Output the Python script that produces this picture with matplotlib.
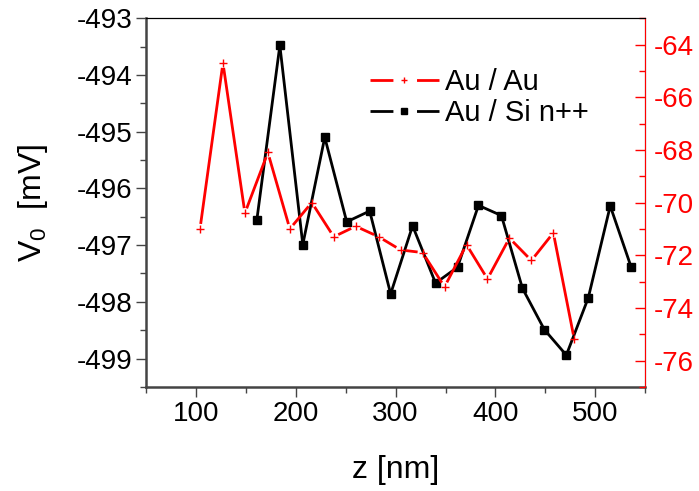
import matplotlib
matplotlib.use('Agg')
import numpy as np
from matplotlib import pyplot as plt
from matplotlib.collections import LineCollection
from matplotlib.lines import Line2D

# Au / Au (right axis, red)
z_au = [104, 127, 149, 172, 194, 216, 238, 260, 283, 305, 327, 349, 371, 392, 414, 436, 458, 479]
v_au = [-71.0, -64.7, -70.4, -68.1, -71.0, -70.0, -71.3, -70.9, -71.3, -71.8, -71.9, -73.2,
        -71.6, -72.9, -71.35, -72.2, -71.15, -75.2]

# Au / Si n++ (left axis, black)
z_si = [161, 184, 207, 229, 251, 274, 295, 317, 340, 362, 383, 406, 427, 449, 471, 493, 515, 536]
v_si = [-496.55, -493.48, -496.99, -495.10, -496.59, -496.40, -497.86, -496.66, -497.67, -497.39,
        -496.30, -496.48, -497.76, -498.49, -498.94, -497.93, -496.31, -497.39]

plt.rcParams['font.family'] = ['Liberation Sans', 'DejaVu Sans']
plt.rcParams['axes.unicode_minus'] = False
plt.rcParams['mathtext.fontset'] = 'custom'
plt.rcParams['mathtext.rm'] = 'Liberation Sans'
plt.rcParams['mathtext.it'] = 'Liberation Sans'
plt.rcParams['lines.scale_dashes'] = False


def gapped(ax, x, y, gap, color, lw):
    # line with small gaps around each point, like the original plot
    pts = ax.transData.transform(np.column_stack([x, y]))
    segs = []
    for p, q in zip(pts[:-1], pts[1:]):
        d = q - p
        L = np.hypot(*d)
        if L <= 2 * gap:
            continue
        u = d / L
        segs.append(ax.transData.inverted().transform([p + u * gap, q - u * gap]))
    ax.add_collection(LineCollection(segs, colors=color, linewidths=lw, capstyle='butt'))


fig = plt.figure(figsize=(6.99, 4.91), dpi=100)
ax = fig.add_axes([0.209, 0.212, 0.714, 0.751])
ax2 = ax.twinx()

ax.set_xlim(50, 550)
ax.set_ylim(-499.5, -493)
ax2.set_ylim(-77, -63)

gapped(ax, z_si, v_si, 3, 'black', 2)
ax.plot(z_si, v_si, ls='none', color='black', marker='s', ms=6)
gapped(ax2, z_au, v_au, 5, 'red', 2)
ax2.plot(z_au, v_au, ls='none', color='red', marker='+', ms=6, mew=1)

ax.set_xticks([100, 200, 300, 400, 500])
ax.set_xticks(range(50, 551, 50), minor=True)
ax.set_yticks(range(-499, -492))
ax.set_yticks([-499.5 + 0.5 * i for i in range(14)], minor=True)
ax2.set_yticks(range(-76, -63, 2))
ax2.set_yticks(range(-77, -62, 1), minor=True)

ax.tick_params(axis='both', which='major', labelsize=20, direction='out', length=7, width=1,
               color='#444444', pad=3)
ax.tick_params(axis='both', which='minor', direction='out', length=4, width=1, color='#444444')
ax.tick_params(axis='x', top=False, which='both')
ax2.tick_params(axis='y', which='major', labelsize=20, colors='red', direction='in',
                length=7, width=1, pad=6)
ax2.tick_params(axis='y', which='minor', colors='red', direction='in', length=4, width=1)

for s in ['left', 'bottom']:
    ax.spines[s].set_color('#444444')
    ax.spines[s].set_linewidth(1.8)
ax2.spines['right'].set_color('red')
ax2.spines['left'].set_visible(False)
ax2.spines['bottom'].set_visible(False)

ax.set_xlabel('z [nm]', fontsize=23, labelpad=20)
ax.set_ylabel(r'V$_0$  [mV]', fontsize=23, labelpad=19)

# legend handles: line - marker - line
h_au = (Line2D([], [], color='red', lw=2, dashes=[16.5, 17]),
        Line2D([], [], color='red', ls='none', marker='+', ms=5, mew=1))
h_si = (Line2D([], [], color='black', lw=2, dashes=[16.5, 17]),
        Line2D([], [], color='black', ls='none', marker='s', ms=5))
ax2.legend([h_au, h_si], ['Au / Au', 'Au / Si n++'], loc='upper left', frameon=False,
           fontsize=21, handlelength=2.38, handletextpad=0.2, labelspacing=0.1,
           borderaxespad=0, borderpad=0, bbox_to_anchor=(0.448, 0.865))

fig.savefig('out.png', dpi=100)
